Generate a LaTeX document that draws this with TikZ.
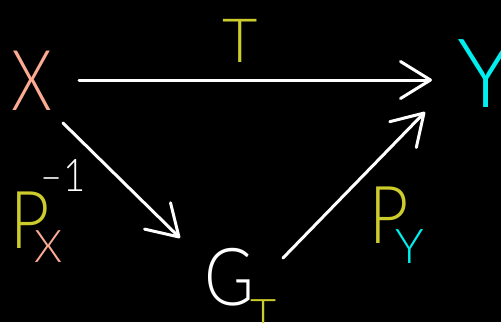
\documentclass[tikz,border=0pt]{standalone}
\usepackage{fontspec}
\setmainfont{Lato Light}
\usetikzlibrary{arrows.meta}
\definecolor{salmon}{RGB}{252,170,145}
\definecolor{hyellow}{RGB}{204,204,44}
\definecolor{hcyan}{RGB}{0,238,238}
\begin{document}
\begin{tikzpicture}[x=1pt,y=-1pt,
  lab/.style={inner sep=0pt, anchor=base},
  arr/.style={draw=white, line width=3pt, line cap=round,
    -{Straight Barb[round,length=30pt,width=37pt]}}]
\fill[black] (0,0) rectangle (501,322);
\useasboundingbox (0,0) rectangle (501,322);
% main nodes
\node[lab, text=salmon] (X) at (32,110) {\fontsize{84}{84}\selectfont\scalebox{0.78}[1]{X}};
\node[lab, text=hcyan] (Y) at (486,107) {\fontsize{96}{96}\selectfont Y};
\node[lab, text=white] (G) at (229,305) {\fontsize{80}{80}\selectfont\scalebox{0.85}[1]{G}};
\node[lab, text=hyellow] (GT) at (264,331) {\fontsize{45}{45}\selectfont T};
% labels
\node[lab, text=hyellow] (T) at (240,62) {\fontsize{61}{61}\selectfont T};
\node[lab, text=hyellow] (PX) at (30,248) {\fontsize{80}{80}\selectfont\scalebox{0.85}[1]{P}};
\node[lab, text=salmon] (PXs) at (49,262) {\fontsize{45}{45}\selectfont X};
\node[lab, text=white] (PXe) at (63,191) {\fontsize{45}{45}\selectfont\scalebox{0.85}[1]{–1}};
\node[lab, text=hyellow] (PY) at (389,243) {\fontsize{80}{80}\selectfont\scalebox{0.85}[1]{P}};
\node[lab, text=hcyan] (PYs) at (410,263) {\fontsize{48}{48}\selectfont Y};
% arrows
\draw[arr] ([shift={(47,-30)}]X.base) -- ([shift={(-54,-27)}]Y.base);
\draw[arr] ([shift={(31,13)}]X.base) -- ([shift={(-49,-67)}]G.base);
\draw[arr] ([shift={(54,-47)}]G.base) -- ([shift={(-61,5)}]Y.base);
\end{tikzpicture}
\end{document}
